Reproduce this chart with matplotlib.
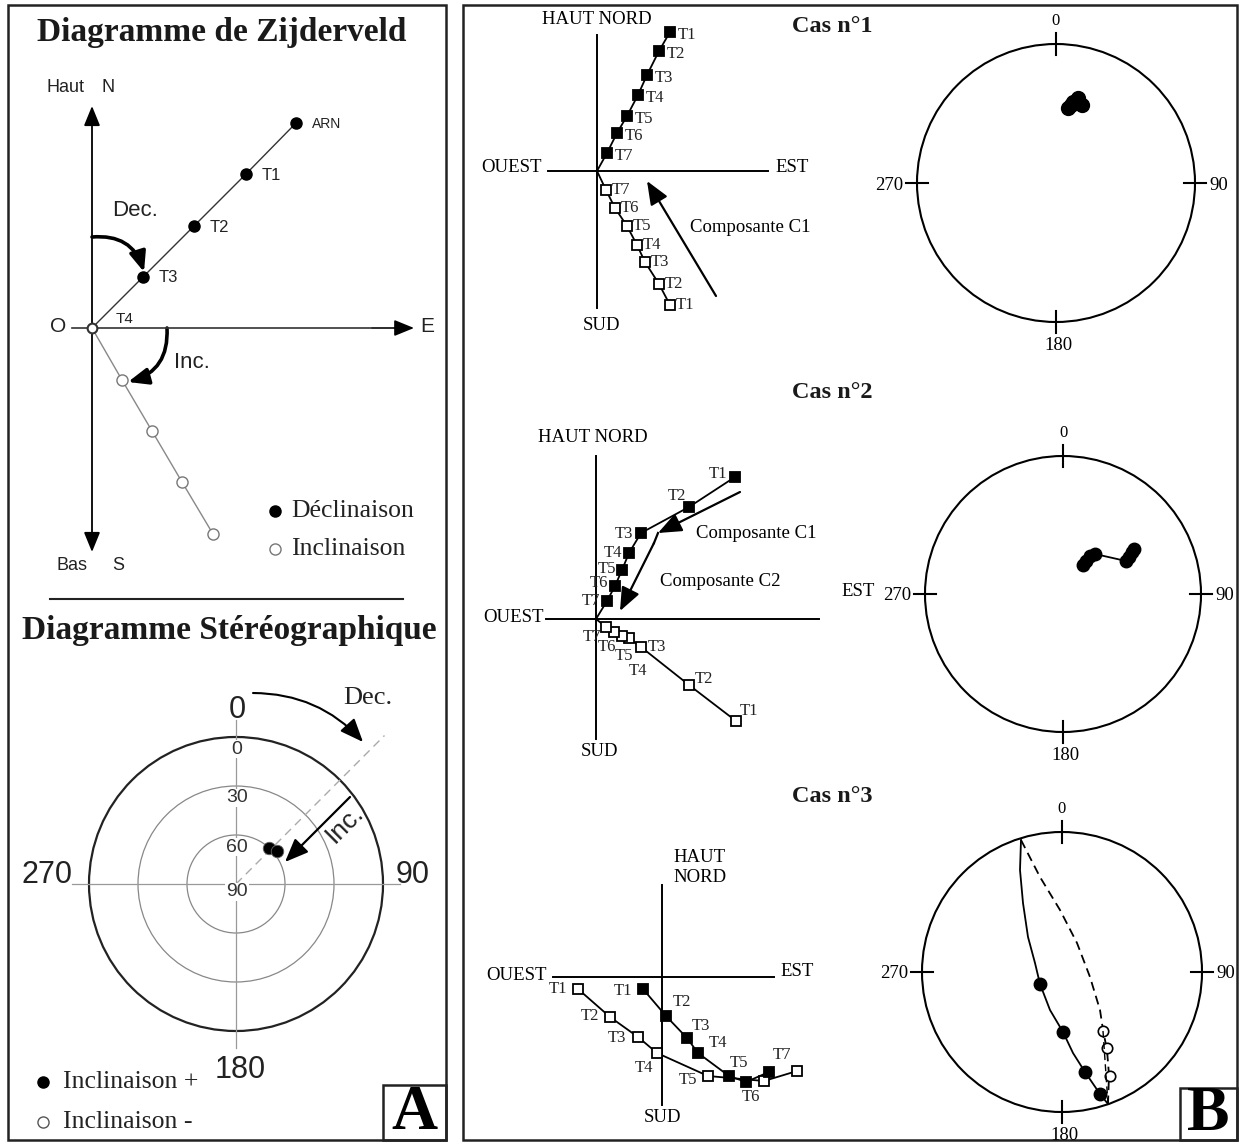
import numpy as np
import matplotlib.pyplot as plt
from matplotlib.patches import Circle, Rectangle, FancyArrowPatch

W, H = 1240, 1145
SERIF = ['Liberation Serif', 'DejaVu Serif']
SANS = ['Liberation Sans', 'DejaVu Sans']
STEPS = ['T1', 'T2', 'T3', 'T4', 'T5', 'T6', 'T7']

# ---- Panel A : Zijderveld (east, north / east, down), units = px from O
a_dec_e = [51, 102, 154, 204]
a_dec_n = [51, 102, 154, 205]
a_dec_lab = ['T3', 'T2', 'T1', 'ARN']
a_inc_e = [30, 60, 90, 121]
a_inc_d = [52, 103, 154, 206]

# ---- Panel A : stereographic
ring_inc = [0, 30, 60, 90]
a_st_dec = [43, 51]
a_st_inc = [60, 58]

# ---- Cas 1
c1_h_e = [73, 62, 50, 41, 30, 20, 10]
c1_h_n = [139, 120, 96, 76, 55, 38, 18]
c1_v_e = [73, 62, 48, 40, 30, 18, 9]
c1_v_d = [134, 113, 91, 74, 55, 37, 19]
c1_st_e = [12, 17, 22, 26, 15]
c1_st_n = [75, 81, 85, 78, 78]

# ---- Cas 2
c2_h_e = [139, 93, 45, 33, 26, 19, 11]
c2_h_n = [142, 112, 86, 66, 49, 33, 18]
c2_v_e = [140, 93, 45, 33, 26, 18, 10]
c2_v_d = [102, 66, 28, 19, 17, 13, 8]
c2_st_e1 = [20, 23, 27, 32]
c2_st_n1 = [29, 33, 38, 40]
c2_st_e2 = [63, 66, 69, 71]
c2_st_n2 = [33, 37, 42, 45]

# ---- Cas 3
c3_h_e = [-19, 4, 25, 36, 67, 84, 107]
c3_h_n = [-12, -39, -61, -76, -99, -105, -95]
c3_v_e = [-84, -52, -24, -5, 46, 102, 135]
c3_v_d = [12, 40, 60, 76, 99, 104, 94]
c3_solid_e = [-41, -42, -39, -34, -27, -22, -12, 1, 11, 23, 38, 46]
c3_solid_n = [132, 102, 69, 35, 9, -12, -38, -60, -81, -100, -122, -132]
c3_dash_e = [-41, -22, -2, 15, 28, 38, 41, 45, 47, 46]
c3_dash_n = [132, 95, 62, 29, -5, -38, -58, -78, -103, -132]
c3_dots_e = [-22, 1, 23, 38]
c3_dots_n = [-12, -60, -100, -122]
c3_open_e = [41, 45, 48]
c3_open_n = [-59, -76, -104]

fig = plt.figure(figsize=(12.4, 11.45), dpi=100)

base = fig.add_axes([0, 0, 1, 1])
base.set_xlim(0, W)
base.set_ylim(H, 0)
base.axis('off')


def layer(cx, cy):
    ax = fig.add_axes([0, 0, 1, 1])
    ax.set_xlim(-cx, W - cx)
    ax.set_ylim(-(H - cy), cy)
    ax.axis('off')
    ax.patch.set_alpha(0)
    return ax


def arrow(ax, p0, p1, rad=0.0, lw=1.6, scale=12, color='black'):
    ax.add_patch(FancyArrowPatch(p0, p1, connectionstyle=f'arc3,rad={rad}',
                                 arrowstyle='-|>,head_length=1.1,head_width=0.45',
                                 mutation_scale=scale, lw=lw, color=color,
                                 shrinkA=0, shrinkB=0))


# frames
base.add_patch(Rectangle((8, 5), 438, 1135, fill=False, lw=1.8, ec='#222222'))
base.add_patch(Rectangle((463, 5), 774, 1135, fill=False, lw=1.8, ec='#222222'))
base.add_patch(Rectangle((383, 1085), 63, 55, fill=False, lw=1.8, ec='#222222'))
base.add_patch(Rectangle((1180, 1088), 57, 52, fill=False, lw=1.8, ec='#222222'))
base.text(414, 1114, 'A', family=SERIF, fontweight='bold', fontsize=46, ha='center', va='center')
base.text(1208, 1115, 'B', family=SERIF, fontweight='bold', fontsize=46, ha='center', va='center')

# ================= Panel A : Zijderveld =================
base.text(222, 33, 'Diagramme de Zijderveld', family=SERIF, fontweight='bold',
          fontsize=24, ha='center', va='center', color='#1a1a1a')
za = layer(92, 328)
arrow(za, (0, -2), (0, 222), lw=1.3, scale=11)
arrow(za, (0, 2), (0, -224), lw=1.3, scale=11)
za.plot([-20, 300], [0, 0], color='#333333', lw=1.2)
arrow(za, (280, 0), (322, 0), lw=1.2, scale=11)
za.plot([0] + a_dec_e, [0] + a_dec_n, color='#333333', lw=1.0)
za.plot(a_dec_e, a_dec_n, 'o', color='black', ms=8)
za.plot([0] + a_inc_e, [0] + [-d for d in a_inc_d], color='#888888', lw=1.0)
za.plot(a_inc_e, [-d for d in a_inc_d], 'o', mfc='white', mec='#777777', ms=8, mew=1.0)
za.plot([0], [0], 'o', mfc='white', mec='#333333', ms=7, mew=1.5)
for e, n, lab in zip(a_dec_e, a_dec_n, a_dec_lab):
    za.text(e + 16, n - 1, lab, family=SANS, fontsize=12 if lab != 'ARN' else 10,
            ha='left', va='center', color='#222222')
za.text(24, 9, 'T4', family=SANS, fontsize=11, ha='left', va='center', color='#222222')
za.text(-34, 1, 'O', family=SANS, fontsize=15, ha='center', va='center', color='#222222')
za.text(335, 1, 'E', family=SANS, fontsize=15, ha='center', va='center', color='#222222')
za.text(-26, 241, 'Haut', family=SANS, fontsize=13, ha='center', va='center', color='#222222')
za.text(16, 241, 'N', family=SANS, fontsize=13, ha='center', va='center', color='#222222')
za.text(-20, -237, 'Bas', family=SANS, fontsize=13, ha='center', va='center', color='#222222')
za.text(26, -237, 'S', family=SANS, fontsize=13, ha='center', va='center', color='#222222')
arrow(za, (0, 91), (52, 56), rad=-0.4, lw=2.6, scale=11)
za.text(43, 117, 'Dec.', family=SANS, fontsize=16, ha='center', va='center', color='#222222')
arrow(za, (75, 0), (36, -54), rad=-0.4, lw=2.6, scale=11)
za.text(100, -35, 'Inc.', family=SANS, fontsize=16, ha='center', va='center', color='#222222')
# legend
base.plot([275], [511], 'o', color='black', ms=8)
base.plot([275], [549], 'o', mfc='white', mec='#777777', ms=8, mew=1.0)
base.text(291, 511, 'Déclinaison', family=SERIF, fontsize=18.5, ha='left', va='center', color='#222222')
base.text(291, 549, 'Inclinaison', family=SERIF, fontsize=18.5, ha='left', va='center', color='#222222')
base.plot([50, 403], [599, 599], color='#222222', lw=1.5)

# ================= Panel A : stereographic =================
base.text(229, 630, 'Diagramme Stéréographique', family=SERIF, fontweight='bold',
          fontsize=24, ha='center', va='center', color='#1a1a1a')
sa = layer(236, 884)
R = 147
sa.plot([-164, 164], [0, 0], color='#999999', lw=0.9)
sa.plot([0, 0], [164, -164], color='#999999', lw=0.9)
for inc in ring_inc[:-1]:
    r = R * (90 - inc) / 90
    sa.add_patch(Circle((0, 0), r, fill=False, lw=1.6 if inc == 0 else 0.9,
                        ec='#222222' if inc == 0 else '#888888'))
L = 210
sa.plot([0, L * np.sin(np.radians(45))], [0, L * np.cos(np.radians(45))],
        ls=(0, (6, 4)), color='#aaaaaa', lw=1.0)
for lab, inc in zip(['0', '30', '60', '90'], ring_inc):
    r = R * (90 - inc) / 90
    sa.text(1, r - 12 if inc < 90 else -8, lab, family=SANS, fontsize=14,
            ha='center', va='center', color='#333333',
            bbox=dict(fc='white', ec='none', pad=0.5))
sa.text(1, 174, '0', family=SANS, fontsize=22, ha='center', va='center', color='#222222')
sa.text(-189, 9, '270', family=SANS, fontsize=22, ha='center', va='center', color='#222222')
sa.text(177, 9, '90', family=SANS, fontsize=22, ha='center', va='center', color='#222222')
sa.text(4, -186, '180', family=SANS, fontsize=22, ha='center', va='center', color='#222222')
for dec, inc in zip(a_st_dec, a_st_inc):
    r = R * (90 - inc) / 90
    sa.plot([r * np.sin(np.radians(dec))], [r * np.cos(np.radians(dec))], 'o',
            color='black', ms=9, mec='#666666', mew=0.6)
arrow(sa, (17, 191), (127, 142), rad=-0.22, lw=1.5, scale=13)
sa.text(132, 186, 'Dec.', family=SERIF, fontsize=19, ha='center', va='center', color='#222222')
arrow(sa, (114, 87), (49, 22), lw=1.6, scale=13)
sa.text(109, 60, 'Inc.', family=SANS, fontsize=19, ha='center', va='center',
        rotation=45, color='#222222')
base.plot([43], [1082], 'o', color='black', ms=8)
base.plot([43], [1122], 'o', mfc='white', mec='#555555', ms=8, mew=1.0)
base.text(63, 1082, 'Inclinaison +', family=SERIF, fontsize=18.5, ha='left', va='center', color='#222222')
base.text(63, 1122, 'Inclinaison -', family=SERIF, fontsize=18.5, ha='left', va='center', color='#222222')


# ================= Panel B =================
LAB = 13.5
TLAB = 12


def zij_axes(ax, xl, xr, yt, yb):
    ax.plot([xl, xr], [0, 0], color='black', lw=1.4)
    ax.plot([0, 0], [yt, yb], color='black', lw=1.4)


def squares(ax, e, n, filled, labels=None, offs=None, line_to_origin=True):
    xs = ([0] if line_to_origin else []) + list(e)[::-1]
    ys = ([0] if line_to_origin else []) + list(n)[::-1]
    ax.plot(xs, ys, color='black', lw=1.3, zorder=2)
    ax.plot(e, n, 's', ms=7.5, mfc='black' if filled else 'white', mec='black',
            mew=1.3, zorder=3)
    if labels is None:
        return
    for x, y, lab, off in zip(e, n, labels, offs):
        if off is None:
            continue
        ax.text(x + off[0], y + off[1], lab, family=SERIF, fontsize=TLAB,
                ha='center', va='center', color='#222222', zorder=4)


def stereo(ax, R, labs):
    ax.add_patch(Circle((0, 0), R, fill=False, lw=1.5, ec='black'))
    t = 11
    ax.plot([0, 0], [R - t, R + t], color='black', lw=1.5)
    ax.plot([0, 0], [-R - t, -R + t], color='black', lw=1.5)
    ax.plot([-R - t, -R + t], [0, 0], color='black', lw=1.5)
    ax.plot([R - t, R + t], [0, 0], color='black', lw=1.5)
    ax.text(0, R + 23, labs[0], family=SERIF, fontsize=12, ha='center', va='center')
    ax.text(R + 14, -2, labs[1], family=SERIF, fontsize=13.5, ha='left', va='center')
    ax.text(2, -R - 24, labs[2], family=SERIF, fontsize=13.5, ha='center', va='center')
    ax.text(-R - 14, -2, labs[3], family=SERIF, fontsize=13.5, ha='right', va='center')


# ---- Cas 1
base.text(832, 27, 'Cas n°1', family=SERIF, fontweight='bold', fontsize=17.5, ha='center', va='center', color='#1a1a1a')
z1 = layer(597, 171)
zij_axes(z1, -49, 171, 136, -137)
z1.text(0, 151, 'HAUT NORD', family=SERIF, fontsize=LAB, ha='center', va='center')
z1.text(-55, 4, 'OUEST', family=SERIF, fontsize=LAB, ha='right', va='center')
z1.text(178, 4, 'EST', family=SERIF, fontsize=LAB, ha='left', va='center')
z1.text(4, -154, 'SUD', family=SERIF, fontsize=LAB, ha='center', va='center')
squares(z1, c1_h_e, c1_h_n, True, STEPS, [(17, -3)] * 7)
squares(z1, c1_v_e, [-d for d in c1_v_d], False, STEPS, [(15, 0)] * 7)
arrow(z1, (119, -125), (50, -10), lw=1.6, scale=13)
z1.text(153, -56, 'Composante C1', family=SERIF, fontsize=LAB, ha='center', va='center')

s1 = layer(1056, 183)
stereo(s1, 139, ['0', '90', '180', '270'])
s1.plot(c1_st_e, c1_st_n, 'o', color='black', ms=10)

# ---- Cas 2
base.text(832, 392, 'Cas n°2', family=SERIF, fontweight='bold', fontsize=17.5, ha='center', va='center', color='#1a1a1a')
z2 = layer(596, 619)
zij_axes(z2, -50, 223, 163, -120)
z2.text(-3, 182, 'HAUT NORD', family=SERIF, fontsize=LAB, ha='center', va='center')
z2.text(-52, 1, 'OUEST', family=SERIF, fontsize=LAB, ha='right', va='center')
z2.text(4, -132, 'SUD', family=SERIF, fontsize=LAB, ha='center', va='center')
squares(z2, c2_h_e, c2_h_n, True, STEPS,
        [(-17, 3), (-12, 11), (-17, -1), (-16, 0), (-15, 1), (-16, 3), (-16, 0)])
squares(z2, c2_v_e, [-d for d in c2_v_d], False, STEPS,
        [(13, 10), (15, 6), (16, 0), (9, -33), (2, -20), (-7, -15), (-14, -10)])
arrow(z2, (144, 127), (62, 86), lw=1.6, scale=13)
z2.plot([62, 58], [86, 76], color='black', lw=1.6)
arrow(z2, (58, 76), (24, 8), lw=1.6, scale=13)
z2.text(160, 86, 'Composante C1', family=SERIF, fontsize=LAB, ha='center', va='center')
z2.text(124, 38, 'Composante C2', family=SERIF, fontsize=LAB, ha='center', va='center')

s2 = layer(1063, 594)
stereo(s2, 138, ['0', '90', '180', '270'])
s2.text(-205, 2, 'EST', family=SERIF, fontsize=LAB, ha='center', va='center')
s2.plot(c2_st_e1, c2_st_n1, 'o', color='black', ms=9)
s2.plot(c2_st_e2, c2_st_n2, 'o', color='black', ms=9)
s2.plot([c2_st_e1[-1], c2_st_e2[0]], [c2_st_n1[-1], c2_st_n2[0]], color='black', lw=1.3)

# ---- Cas 3
base.text(832, 797, 'Cas n°3', family=SERIF, fontweight='bold', fontsize=17.5, ha='center', va='center', color='#1a1a1a')
z3 = layer(662, 977)
zij_axes(z3, -109, 112, 92, -128)
z3.text(38, 120, 'HAUT', family=SERIF, fontsize=LAB, ha='center', va='center')
z3.text(38, 99, 'NORD', family=SERIF, fontsize=LAB, ha='center', va='center')
z3.text(-115, 2, 'OUEST', family=SERIF, fontsize=LAB, ha='right', va='center')
z3.text(118, 5, 'EST', family=SERIF, fontsize=LAB, ha='left', va='center')
z3.text(1, -141, 'SUD', family=SERIF, fontsize=LAB, ha='center', va='center')
squares(z3, c3_v_e, [-d for d in c3_v_d], False, STEPS,
        [(-20, 0), (-20, 1), (-21, -1), (-13, -15), (-20, -4), None, None],
        line_to_origin=False)
squares(z3, c3_h_e, c3_h_n, True, STEPS,
        [(-20, -2), (16, 14), (14, 12), (20, 10), (10, 13), (5, -15), (13, 17)],
        line_to_origin=False)

s3 = layer(1062, 972)
stereo(s3, 140, ['0', '90', '180', '270'])
s3.plot(c3_solid_e, c3_solid_n, color='black', lw=1.3)
s3.plot(c3_dash_e, c3_dash_n, color='black', lw=1.3, ls=(0, (5, 3)))
s3.plot(c3_dots_e, c3_dots_n, 'o', color='black', ms=9)
s3.plot(c3_open_e, c3_open_n, 'o', mfc='white', mec='black', ms=7.5, mew=1.2)
s3.plot([c3_open_e[0], c3_dash_e[-1]], [c3_open_n[0], c3_dash_n[-1]], color='black', lw=1.0, ls=(0, (5, 3)))

fig.savefig('out.png', dpi=100)
